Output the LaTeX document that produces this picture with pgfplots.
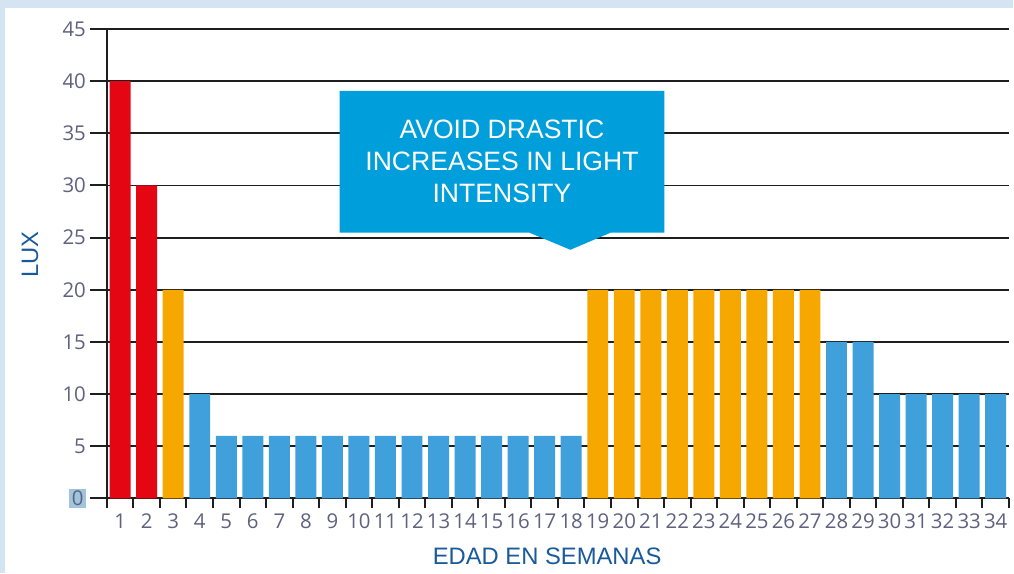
\documentclass[border=0pt]{standalone}
\usepackage{pgfplots}
\pgfplotsset{compat=1.18}
\usepackage{fontspec}
\setmainfont{Liberation Sans}
\newfontfamily\tickfont{Open Sans}
\definecolor{barred}{RGB}{228,6,19}
\definecolor{barorange}{RGB}{247,168,0}
\definecolor{barblue}{RGB}{64,160,219}
\definecolor{callout}{RGB}{0,158,219}
\definecolor{ticktext}{RGB}{96,96,128}
\definecolor{labelblue}{RGB}{24,90,155}
\definecolor{bgblue}{RGB}{212,228,242}
\definecolor{hl}{RGB}{160,196,222}
\definecolor{gridc}{RGB}{30,30,30}
\begin{document}
\begin{tikzpicture}
\fill[bgblue] (-53.5pt,-37.5pt) rectangle (453.5pt,249.5pt);
\fill[white] (-51pt,-37.5pt) rectangle (453.5pt,245.5pt);
\begin{axis}[
  scale only axis, width=451.5pt, height=235pt,
  xmin=0.5, xmax=34.5, ymin=0, ymax=45,
  axis lines*=left,
  axis line style={gridc, line width=1pt},
  xtick={1,...,34},
  minor xtick={0.5,1.5,...,34.5},
  ytick={0,5,...,45},
  yticklabels={{\setlength\fboxsep{1.2pt}\colorbox{hl}{0}},5,10,15,20,25,30,35,40,45},
  tick align=outside,
  major tick length=8.5pt,
  minor tick length=5pt,
  major x tick style={draw=none},
  minor x tick style={gridc, line width=1pt},
  major y tick style={gridc, line width=1pt},
  ymajorgrids,
  major grid style={gridc, line width=0.9pt},
  /pgf/number format/assume math mode=true,
  tick label style={font=\tickfont\fontsize{10.2}{11}\selectfont, text=ticktext},
  x tick label style={yshift=4.5pt},
  y tick label style={xshift=1.5pt},
  xlabel={EDAD EN SEMANAS},
  ylabel={LUX},
  label style={font=\fontsize{11.9}{13}\selectfont, text=labelblue},
  xlabel style={at={(axis description cs:0.488,-0.1234)}, anchor=center},
  ylabel style={at={(axis description cs:-0.0853,0.519)}, anchor=center},
  clip=false,
]
\addplot[ybar, bar width=0.79, bar shift=0pt, fill=barred, draw=none] coordinates {(1,40)(2,30)};
\addplot[ybar, bar width=0.79, bar shift=0pt, fill=barorange, draw=none] coordinates {(3,20)(19,20)(20,20)(21,20)(22,20)(23,20)(24,20)(25,20)(26,20)(27,20)};
\addplot[ybar, bar width=0.79, bar shift=0pt, fill=barblue, draw=none] coordinates {(4,10)(5,6)(6,6)(7,6)(8,6)(9,6)(10,6)(11,6)(12,6)(13,6)(14,6)(15,6)(16,6)(17,6)(18,6)(28,15)(29,15)(30,10)(31,10)(32,10)(33,10)(34,10)};
\fill[callout] (axis cs:9.27,39.06) -- (axis cs:21.51,39.06) -- (axis cs:21.51,25.47) -- (axis cs:19.48,25.47) -- (axis cs:17.97,23.84) -- (axis cs:16.43,25.47) -- (axis cs:9.27,25.47) -- cycle;
\node[text=white, align=center, font=\fontsize{13.3}{16}\selectfont] at (axis cs:15.39,32.3) {AVOID DRASTIC\\INCREASES IN LIGHT\\INTENSITY};
\end{axis}
\end{tikzpicture}
\end{document}
